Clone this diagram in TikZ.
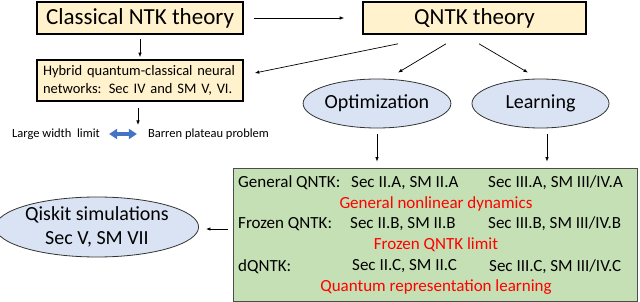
\documentclass[tikz,border=0pt]{standalone}
\usepackage{fontspec}
\setmainfont{Carlito}
\usetikzlibrary{arrows.meta,shapes.geometric}
\definecolor{boxfill}{RGB}{255,242,204}
\definecolor{ellfill}{RGB}{218,227,243}
\definecolor{grnfill}{RGB}{197,224,180}
\definecolor{dblue}{RGB}{68,114,196}
\tikzset{
  tbox/.style={draw,line width=1.6pt,fill=boxfill,minimum height=32pt,inner sep=0pt,font=\fontsize{23}{27}\selectfont},
  ell/.style={ellipse,draw=black!80,fill=ellfill,line width=.8pt,inner sep=0pt,align=center,font=\fontsize{20}{24}\selectfont},
  arr/.style={-{Latex[length=4.5pt,width=3.5pt]},line width=.7pt},
  gtxt/.style={anchor=west,inner sep=0pt,font=\fontsize{17}{20}\selectfont},
  rtxt/.style={inner sep=0pt,text=red,font=\fontsize{17}{20}\selectfont},
  small/.style={inner sep=0pt,font=\fontsize{12.5}{15}\selectfont}
}
\begin{document}
\begin{tikzpicture}[x=1pt,y=-1pt]
  \useasboundingbox (0,0) rectangle (640,302);
  % top row
  \node[tbox,minimum width=206pt] (classic) at (140,18) {Classical NTK theory};
  \node[tbox,minimum width=223pt] (qntk) at (474.5,18) {QNTK theory};
  \node[tbox,minimum width=206pt,minimum height=41pt,text width=194pt,inner xsep=6pt,align=left,font=\fontsize{14.5}{18}\selectfont] (hybrid) at (140,80.5) {Hybrid quantum-classical neural\\networks: Sec IV and SM V, VI.};
  \node[small] (width) at (56,134) {Large width~ limit}; \node[small] (barren) at (208.5,134) {Barren plateau problem}; \coordinate (limit) at (138,125);
  % ellipses
  \node[ell,minimum width=138pt,minimum height=49pt] (optim) at (377,103.5) {Optimization};
  \node[ell,minimum width=137pt,minimum height=49pt] (learn) at (540.5,103.5) {Learning};
  \node[ell,minimum width=192pt,minimum height=60pt] (qiskit) at (97,227) {Qiskit simulations\\Sec V, SM VII};
  % summary box
  \node[draw=black!70,fill=grnfill,line width=.8pt,minimum width=404pt,minimum height=133pt,inner sep=0pt] (summary) at (435,234.5) {};
  \node[gtxt] (genA) at (238,183) {General QNTK:}; \node[gtxt] (genB) at (351,183) {Sec II.A, SM II.A}; \node[gtxt] (genC) at (488,183) {Sec III.A, SM III/IV.A};
  \node[rtxt] (genR) at (436,203.5) {General nonlinear dynamics};
  \node[gtxt] (froA) at (238,224) {Frozen QNTK:}; \node[gtxt] (froB) at (350,224) {Sec II.B, SM II.B}; \node[gtxt] (froC) at (488,224) {Sec III.B, SM III/IV.B};
  \node[rtxt] (froR) at (436,245) {Frozen QNTK limit};
  \node[gtxt] (dqA) at (238,266.5) {dQNTK:}; \node[gtxt] (dqB) at (352,266.5) {Sec II.C, SM II.C}; \node[gtxt] (dqC) at (489,266.5) {Sec III.C, SM III/IV.C};
  \node[rtxt] (dqR) at (436,287) {Quantum representation learning};
  % connectors
  \draw[arr] ([xshift=10pt]classic.east) -- ([xshift=-18pt]qntk.west);
  \draw[arr] ([yshift=-4pt]classic.south) -- ([yshift=2pt]hybrid.north);
  \draw[arr] ([shift={(-76.5,9)}]qntk.south) -- ([shift={(11,-7.5)}]hybrid.east);
  \draw[arr] ([shift={(-28.5,9)}]qntk.south) -- ([shift={(21,-6)}]optim.north);
  \draw[arr] ([shift={(4.5,9)}]qntk.south) -- ([shift={(-12.5,-6)}]learn.north);
  \draw[arr] ([yshift=-6pt]optim.south) -- ([yshift=6pt]optim.south |- summary.north);
  \draw[arr] ([shift={(6.5,6)}]learn.south) -- ([shift={(6.5,-6)}]learn.south |- summary.north);
  \draw[arr] ([shift={(-2,6)}]hybrid.south) -- (limit);
  \draw[arr] ([shift={(-5,-5.5)}]summary.west) -- ([shift={(7,-5.5)}]summary.west -| qiskit.east);
  \draw[dblue,line width=3.5pt,{Triangle[length=8pt,width=10pt]}-{Triangle[length=8pt,width=10pt]}] ([xshift=9pt]width.east) -- ([xshift=-11pt]barren.west);
\end{tikzpicture}
\end{document}
